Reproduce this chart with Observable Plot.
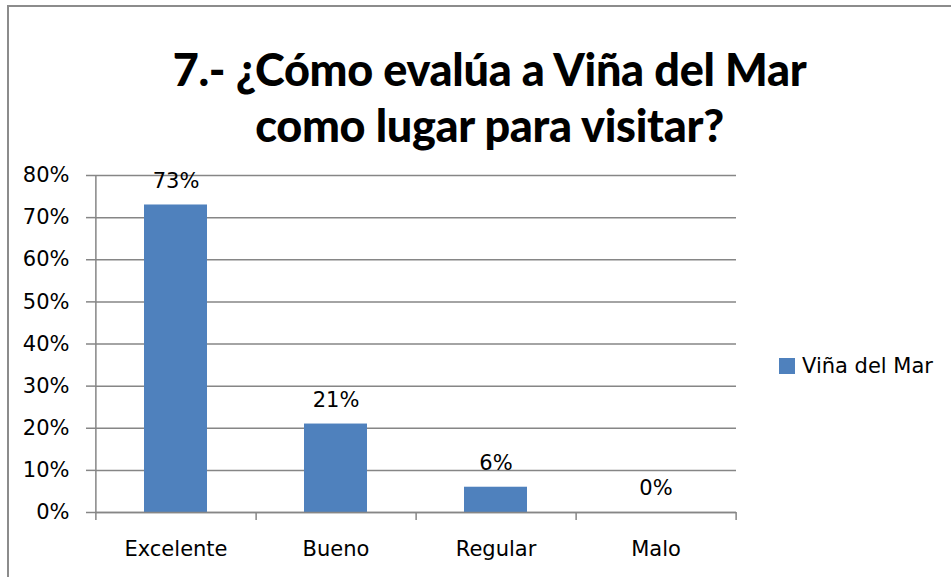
<!DOCTYPE html>
<html>
<head>
<meta charset="utf-8">
<script src="https://cdn.jsdelivr.net/npm/d3@7"></script>
<script src="https://cdn.jsdelivr.net/npm/@observablehq/plot@0.6"></script>
<style>
  html, body { margin: 0; padding: 0; background: #fff; overflow: hidden; }
  #wrap { position: relative; width: 951px; height: 577px; overflow: hidden; }
  #border { position: absolute; left: 7px; top: 5px; right: -10px; bottom: -10px;
            border: 2px solid #8c8c8c; pointer-events: none; }
  #title { height: 150px; box-sizing: border-box; padding-top: 41px; padding-left: 28px;
           text-align: center; font-family: Lato, sans-serif; font-weight: 900;
           font-size: 45px; line-height: 56px; color: #000; letter-spacing: -0.3px; }
  #legend { position: absolute; left: 779px; top: 354px; display: flex; align-items: center;
            font-family: "DejaVu Sans", sans-serif; font-size: 21px; color: #000; }
  #legend .sw { width: 16px; height: 16px; margin-right: 7px; }
  svg { display: block; }
</style>
</head>
<body>
<div id="wrap">
  <div id="border"></div>
  <div id="title">7.- ¿Cómo evalúa a Viña del Mar<br>como lugar para visitar?</div>
  <div id="chart"></div>
  <div id="legend"></div>
</div>
<script>
const categories = ["Excelente", "Bueno", "Regular", "Malo"];
const values = [0.73, 0.21, 0.06, 0.00];
const valueLabels = ["73%", "21%", "6%", "0%"];
const yTicks = [0, 0.1, 0.2, 0.3, 0.4, 0.5, 0.6, 0.7, 0.8];
const seriesName = "Viña del Mar";
const barColor = "#4f81bd";
const gridColor = "#868686";

const data = categories.map((c, i) => ({cat: c, value: values[i], label: valueLabels[i]}));

const W = 951, H = 427, ML = 95, MR = 215, MT = 25, MB = 65;
const step = (W - ML - MR) / categories.length;
const pad = 0.607;

const chart = Plot.plot({
  width: W, height: H,
  marginLeft: ML, marginRight: MR, marginTop: MT, marginBottom: MB,
  style: {fontFamily: "DejaVu Sans, sans-serif", fontSize: "21px", color: "#000", background: "#fff"},
  x: {type: "band", domain: categories, paddingInner: pad, paddingOuter: pad / 2, label: null},
  y: {domain: [0, 0.8], label: null},
  marks: [
    Plot.gridY(yTicks, {stroke: gridColor, strokeOpacity: 1, strokeWidth: 1.5}),
    Plot.axisY(yTicks, {tickFormat: d3.format(".0%"), tickSize: 9, tickPadding: 17,
      stroke: gridColor, strokeWidth: 1.5, fontSize: 21, fill: "#000", label: null}),
    Plot.barY(data, {x: "cat", y: "value", fill: barColor}),
    // x axis line
    Plot.ruleY([0], {stroke: gridColor, strokeWidth: 1.5}),
    // y axis line
    Plot.ruleX([categories[0]], {dx: -step / 2, y1: -0.019, y2: 0.8, stroke: gridColor, strokeWidth: 1.5}),
    // category boundary ticks
    Plot.ruleX(categories, {dx: step / 2, y1: -0.019, y2: 0, stroke: gridColor, strokeWidth: 1.5}),
    Plot.axisX({tickSize: 0, tickPadding: 29, fontSize: 21, fill: "#000", label: null}),
    Plot.text(data, {x: "cat", y: "value", text: "label", dy: -24, fontSize: 21, fill: "#000"})
  ]
});
document.getElementById("chart").appendChild(chart);

const lg = document.getElementById("legend");
const sw = document.createElement("div");
sw.className = "sw";
sw.style.background = barColor;
lg.appendChild(sw);
const tx = document.createElement("span");
tx.textContent = seriesName;
lg.appendChild(tx);
</script>
</body>
</html>
